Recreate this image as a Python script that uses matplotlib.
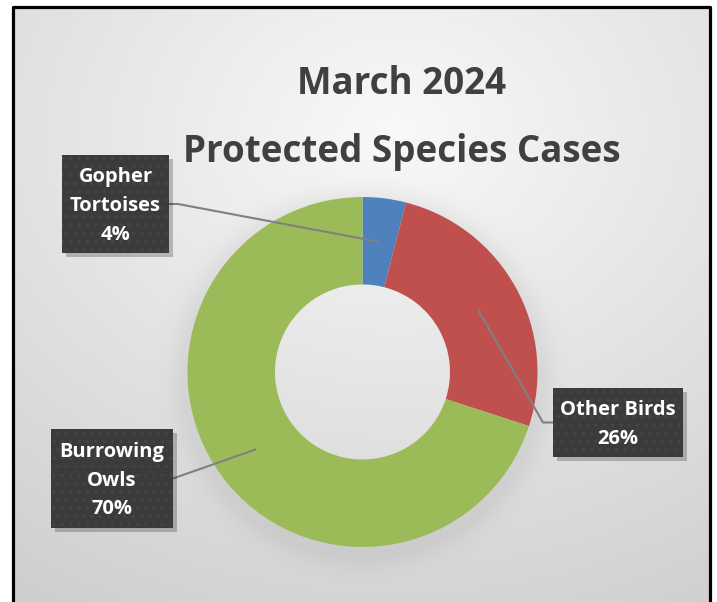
import matplotlib.pyplot as plt
import numpy as np
from matplotlib.patches import Rectangle

# data
labels = ["Gopher\nTortoises", "Other Birds", "Burrowing\nOwls"]
values = [4, 26, 70]
colors = ["#4F81BD", "#C0504D", "#9BBB59"]

W, H = 717, 602
fig = plt.figure(figsize=(W / 100, H / 100), dpi=100)
ax = fig.add_axes([0, 0, 1, 1])
ax.set_xlim(0, W)
ax.set_ylim(0, H)
ax.set_axis_off()

FONT = "Open Sans"

# background gradient inside the frame
fx0, fx1, fy0, fy1 = 13, 710, 0, 595
xs = np.linspace(fx0, fx1, 300)
ys = np.linspace(fy0, fy1, 300)
X, Y = np.meshgrid(xs, ys)
d = np.sqrt(((X - 395) / 1.25) ** 2 + (Y - 470) ** 2)
val = 0.975 - 0.00030 * d
# soft shadow round the donut
cx, cy, R = 362.5, 230, 175
r = np.sqrt((X - cx) ** 2 + (Y - cy + 6) ** 2)
val -= 0.05 * np.exp(-((r - R) / 18) ** 2) * (r > R - 10)
val = np.clip(val, 0, 1)
ax.imshow(np.dstack([val, val, val]), extent=(fx0, fx1, fy0, fy1),
          origin="lower", aspect="auto", zorder=0)
ax.plot([fx0, fx0, fx1, fx1], [0, fy1, fy1, 0], color="black", lw=2.3, zorder=5)

# donut
ax.pie(values, colors=colors, startangle=90, counterclock=False,
       center=(cx, cy), radius=R, frame=True,
       wedgeprops=dict(width=R * 0.5, linewidth=0))
ax.set_xlim(0, W)
ax.set_ylim(0, H)
ax.set_aspect("auto")
ax.set_axis_off()

# title
ax.text(402, 518, "March 2024", ha="center", va="center", fontsize=26.5,
        fontfamily=FONT, fontweight="bold", color="#404040")
ax.text(402, 450, "Protected Species Cases", ha="center", va="center",
        fontsize=26.5, fontfamily=FONT, fontweight="bold", color="#404040")

# label boxes: (x0, y0, w, h) and side the leader enters from
boxes = [(62, 349, 107, 98, "right"), (553, 145, 130, 69, "left"),
         (51, 74, 122, 99, "right")]

total = sum(values)
cum = 0
for lab, v, (bx, by, bw, bh, side) in zip(labels, values, boxes):
    mid = (cum + v / 2) / total
    cum += v
    ang = np.deg2rad(90 - 360 * mid)
    axp = cx + 0.75 * R * np.cos(ang)
    ayp = cy + 0.75 * R * np.sin(ang)
    ey = by + bh / 2
    if side == "right":
        ex = bx + bw
        elx = ex + 9 if ayp < ey - 15 else ex
    else:
        ex = bx
        elx = ex - 10
    ax.plot([axp, elx, ex], [ayp, ey, ey], color="#808080", lw=1.5, zorder=3,
            solid_capstyle="butt")
    ax.add_patch(Rectangle((bx + 4, by - 4), bw, bh, facecolor="#000000",
                           alpha=0.22, lw=0, zorder=3))
    ax.add_patch(Rectangle((bx, by), bw, bh, facecolor="#3b3b3b",
                           edgecolor="#454545", hatch="..", lw=0, zorder=4))
    ax.text(bx + bw / 2, ey - 2, f"{lab}\n{v}%", ha="center", va="center",
            fontsize=14.5, fontfamily=FONT, fontweight="bold", color="white",
            linespacing=1.6, zorder=6)

fig.savefig("out.png", dpi=100)
